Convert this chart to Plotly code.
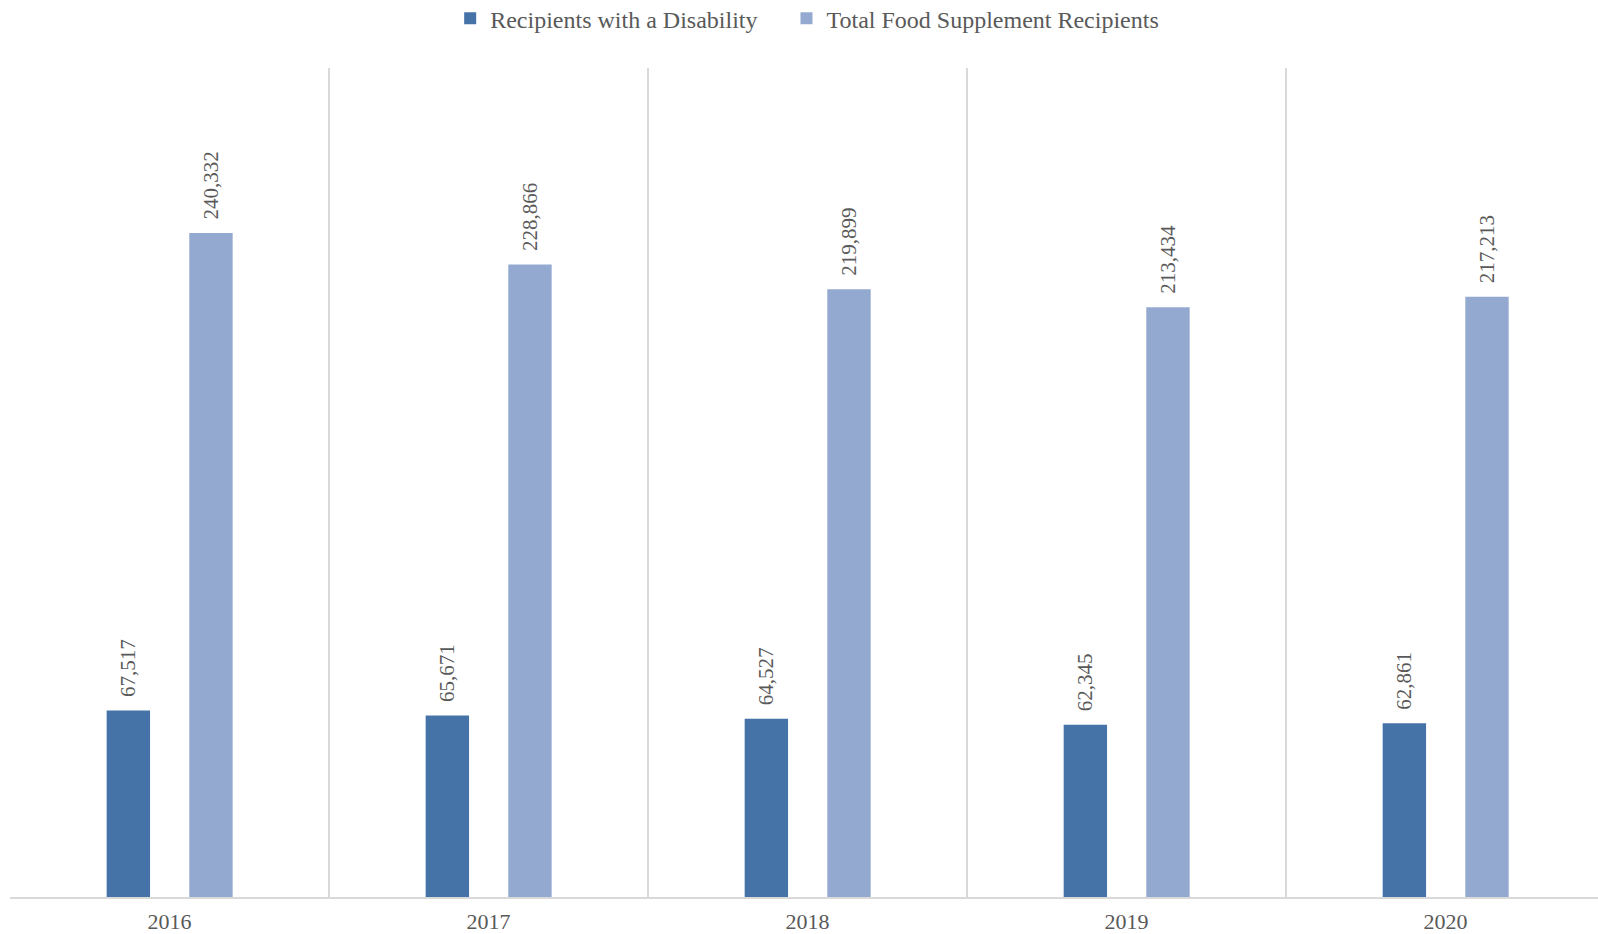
import plotly.graph_objects as go

years = ["2016", "2017", "2018", "2019", "2020"]
disability = [67517, 65671, 64527, 62345, 62861]
total = [240332, 228866, 219899, 213434, 217213]

series_names = ["Recipients with a Disability", "Total Food Supplement Recipients"]
colors = ["#4573A7", "#94A9D0"]

font_family = "Liberation Serif, Times New Roman, serif"
text_color = "#595959"
pad = "\u00a0\u00a0"
legend_gap = ["\u00a0\u00a0\u00a0\u00a0", ""]
bar_offsets = [-0.197, 0.062]
bar_width = 0.136

fig = go.Figure()
for name, vals, col, off, gap in zip(series_names, [disability, total], colors, bar_offsets, legend_gap):
    fig.add_trace(go.Bar(
        x=years, y=vals, name=name + gap,
        marker=dict(color=col, line=dict(width=0)),
        width=bar_width, offset=off,
        text=[pad + f"{v:,}" for v in vals],
        textposition="outside",
        textangle=-90,
        constraintext="none",
        cliponaxis=False,
        textfont=dict(family=font_family, size=21, color=text_color),
    ))

fig.update_layout(
    width=1598, height=934,
    paper_bgcolor="white", plot_bgcolor="white",
    margin=dict(l=10, r=0, t=68, b=37, autoexpand=False),
    barmode="group",
    font=dict(family=font_family, color=text_color),
    legend=dict(
        orientation="h", x=0.502, xanchor="center",
        yref="container", y=0.98, yanchor="middle",
        font=dict(family=font_family, size=24, color=text_color),
        traceorder="normal",
    ),
    showlegend=True,
)

fig.update_xaxes(
    type="category",
    range=[-0.5, 4.478],
    tickson="boundaries",
    showgrid=True, gridcolor="#D9D9D9", gridwidth=2,
    showline=True, linecolor="#D9D9D9", linewidth=2,
    ticks="", ticklen=0,
    ticklabelstandoff=4,
    automargin=False,
    tickfont=dict(family=font_family, size=22, color=text_color),
    fixedrange=True,
)
fig.update_yaxes(
    range=[0, 300000],
    showgrid=False, zeroline=False, showticklabels=False, showline=False,
    automargin=False,
    fixedrange=True,
)

fig.write_html(
    "out.html",
    config={"displayModeBar": False},
    post_script="document.body.style.margin='0px';document.body.style.overflow='hidden';",
)
